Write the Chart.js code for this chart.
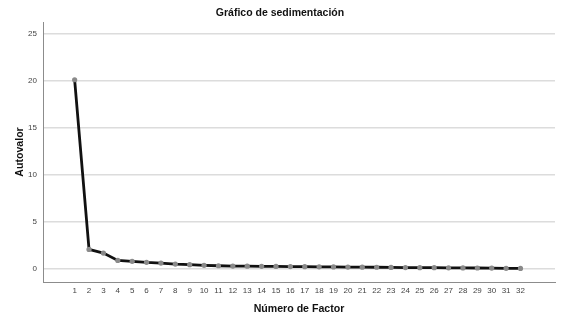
<!DOCTYPE html>
<html><head><meta charset="utf-8">
<script src="https://cdn.jsdelivr.net/npm/chart.js@4"></script>
<style>html,body{margin:0;padding:0;background:#fff}#wrap{width:567px;height:320px}</style>
</head><body><div id="wrap"><canvas id="c" width="567" height="320"></canvas></div>
<script>
const factors = [1,2,3,4,5,6,7,8,9,10,11,12,13,14,15,16,17,18,19,20,21,22,23,24,25,26,27,28,29,30,31,32];
const eigenvalues = [20.15,2.09,1.70,0.92,0.82,0.71,0.64,0.53,0.46,0.39,0.35,0.32,0.31,0.29,0.28,0.26,0.25,0.24,0.22,0.21,0.20,0.19,0.17,0.16,0.15,0.14,0.13,0.12,0.11,0.10,0.08,0.06];
const yTicks = [0,5,10,15,20,25];

const FONT = "'Liberation Sans', Arial, sans-serif";
new Chart(document.getElementById('c'), {
  type: 'line',
  data: {
    datasets: [{
      data: factors.map((f,i)=>({x:f, y:eigenvalues[i]})),
      borderColor: '#111',
      borderWidth: 2.8,
      pointBackgroundColor: '#8a8a8a',
      pointBorderWidth: 0,
      pointRadius: 2.6,
      tension: 0
    }]
  },
  options: {
    responsive: false,
    animation: false,
    layout: { padding: { left: 5, right: 12, top: 0, bottom: 0 } },
    plugins: {
      legend: { display: false },
      tooltip: { enabled: false },
      title: { display: true, text: 'Gráfico de sedimentación', color: '#111',
        font: { family: FONT, size: 10.5, weight: 'bold' }, padding: { top: 7, bottom: 2.4 } }
    },
    scales: {
      x: {
        type: 'linear', min: -1.2, max: 34.4,
        afterBuildTicks: s => { s.ticks = factors.map(v => ({ value: v })); },
        afterFit: s => { s.height = 38; },
        grid: { display: false, drawTicks: false },
        border: { display: true, color: '#8c8c8c', width: 1 },
        ticks: { color: '#444', font: { family: FONT, size: 8 }, padding: 4, maxRotation: 0, autoSkip: false,
          callback: v => String(v) },
        title: { display: true, text: 'Número de Factor', color: '#111',
          font: { family: FONT, size: 10.6, weight: 'bold' }, padding: { top: 4, bottom: 5 } }
      },
      y: {
        min: -1.38, max: 26.3,
        afterBuildTicks: s => { s.ticks = yTicks.map(v => ({ value: v })); },
        afterFit: s => { s.width = 38; },
        grid: { color: '#dcdcdc', lineWidth: 1.5, drawTicks: false },
        border: { display: true, color: '#8c8c8c', width: 1 },
        ticks: { color: '#444', font: { family: FONT, size: 8 }, padding: 6, callback: v => String(v) },
        title: { display: true, text: 'Autovalor', color: '#111',
          font: { family: FONT, size: 10.6, weight: 'bold' }, padding: { top: 9, bottom: 0 } }
      }
    }
  }
});
</script>
</body></html>
